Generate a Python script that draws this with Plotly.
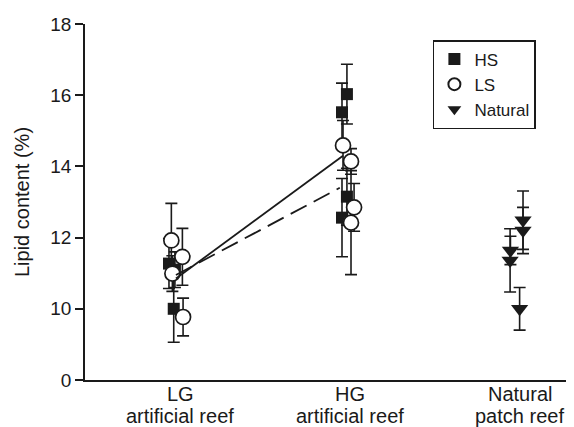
import plotly.graph_objects as go

# Category labels (two lines each) and positions
cat_line1 = ["LG", "HG", "Natural"]
cat_line2 = ["artificial reef", "artificial reef", "patch reef"]
category_pos = [1, 2, 3]

# y tick labels (broken axis: bottom tick labelled 0)
y_tickvals = [8, 10, 12, 14, 16, 18]
y_ticktext = ["0", "10", "12", "14", "16", "18"]

# HS (squares)
hs_group = [1, 1, 1, 2, 2, 2, 2]
hs_offset = [-0.065, -0.03, -0.037, -0.018, -0.047, -0.018, -0.047]
hs_values = [11.27, 11.10, 10.00, 16.03, 15.52, 13.15, 12.56]
hs_err = [0.70, 0.50, 0.94, 0.84, 0.82, 0.80, 1.10]

# LS (open circles)
ls_group = [1, 1, 1, 1, 2, 2, 2, 2]
ls_offset = [-0.051, 0.014, -0.045, 0.018, -0.041, 0.006, 0.024, 0.006]
ls_values = [11.92, 11.46, 10.99, 9.77, 14.59, 14.14, 12.85, 12.42]
ls_err = [1.04, 0.80, 0.50, 0.53, 0.70, 0.36, 0.67, 1.46]

# Natural (down triangles)
nat_group = [3, 3, 3, 3, 3]
nat_offset = [0.018, 0.018, -0.056, -0.058, -0.002]
nat_values = [12.49, 12.20, 11.64, 11.36, 10.00]
nat_err = [0.82, 0.65, 0.40, 0.89, 0.60]

# Group-mean lines
hs_line_x = [0.976, 1.959]
hs_line_y = [10.85, 14.30]
ls_line_x = [0.976, 1.94]
ls_line_y = [10.95, 13.40]


def xs(group, offset):
    return [g + o for g, o in zip(group, offset)]


ink = "#1a1a1a"
eb = dict(type="data", thickness=1.6, width=6, color=ink)

fig = go.Figure()
fig.add_trace(go.Scatter(
    x=xs(hs_group, hs_offset), y=hs_values, mode="markers", name="HS",
    error_y=dict(array=hs_err, **eb),
    marker=dict(symbol="square", size=12, color=ink, line=dict(width=0)),
))
fig.add_trace(go.Scatter(
    x=xs(ls_group, ls_offset), y=ls_values, mode="markers", name="LS",
    error_y=dict(array=ls_err, **eb),
    marker=dict(symbol="circle", size=15, color="white", line=dict(width=1.7, color=ink)),
))
fig.add_trace(go.Scatter(
    x=xs(nat_group, nat_offset), y=nat_values, mode="markers", name="Natural",
    error_y=dict(array=nat_err, **eb),
    marker=dict(symbol="triangle-down", size=15, color=ink, line=dict(width=0)),
))
fig.add_trace(go.Scatter(
    x=hs_line_x, y=hs_line_y, mode="lines", showlegend=False,
    line=dict(color=ink, width=1.8),
))
fig.add_trace(go.Scatter(
    x=ls_line_x, y=ls_line_y, mode="lines", showlegend=False,
    line=dict(color=ink, width=1.8, dash="18px,8px"),
))

# Category labels as text below the axis
for pos, l1, l2 in zip(category_pos, cat_line1, cat_line2):
    fig.add_annotation(
        x=pos, y=0, xref="x", yref="paper", yanchor="middle", xanchor="center",
        text=l1, showarrow=False, yshift=-14, borderpad=0,
        font=dict(size=20, color=ink),
    )
    fig.add_annotation(
        x=pos, y=0, xref="x", yref="paper", yanchor="middle", xanchor="center",
        text=l2, showarrow=False, yshift=-36, borderpad=0,
        font=dict(size=20, color=ink),
    )

fig.update_layout(
    width=574, height=427,
    margin=dict(l=77, r=0, t=16, b=55),
    paper_bgcolor="white", plot_bgcolor="white",
    font=dict(family="Liberation Sans, Arial, sans-serif", size=17, color=ink),
    legend=dict(
        x=0.70, y=0.955, xanchor="left", yanchor="top",
        bordercolor=ink, borderwidth=1.5, bgcolor="white",
        font=dict(size=17), itemsizing="constant", tracegroupgap=0,
    ),
    xaxis=dict(
        range=[0.441, 3.365], tickvals=category_pos, showticklabels=False,
        showgrid=False, zeroline=False, showline=True, linecolor=ink,
        linewidth=1.6, ticks="",
    ),
    yaxis=dict(
        range=[8, 18], tickvals=y_tickvals, ticktext=y_ticktext,
        showgrid=False, zeroline=False, showline=True, linecolor=ink,
        linewidth=1.6, ticks="outside", ticklen=8, tickwidth=1.6, tickcolor=ink,
        tickfont=dict(size=19),
        title=dict(text="Lipid content (%)", font=dict(size=20), standoff=15),
    ),
)

fig.write_html("out.html")
